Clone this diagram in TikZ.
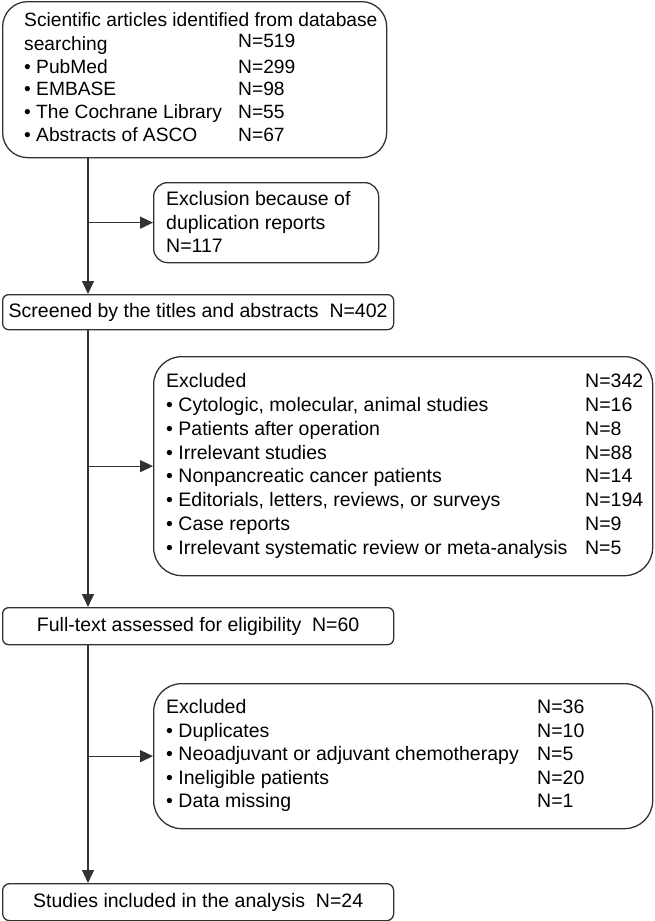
\documentclass[tikz,border=0pt]{standalone}
\usepackage{fontspec}
\setmainfont{Liberation Sans}
\usetikzlibrary{arrows.meta}
\definecolor{linegray}{RGB}{50,50,50}
\newcommand\fsz{\fontsize{19.5}{23}\selectfont}
\begin{document}
\begin{tikzpicture}[x=1pt,y=1pt,
  box/.style={draw=linegray, line width=1.3pt, inner sep=0pt, anchor=north west},
  txt/.style={inner sep=0pt, font=\fsz, text=black},
  conn/.style={draw=linegray, line width=1.3pt},
  arr/.style={conn, -{Triangle[length=13pt,width=12pt]}}]
\useasboundingbox (0,0) rectangle (654,-921);
\coordinate (trunk) at (88,0);

% top box
\node[box, rounded corners=25pt, minimum width=384pt, minimum height=156pt] (src) at (2,-1) {};
\node[txt, anchor=west, font=\fontsize{19.2}{22.8}\selectfont] (srct) at ([xshift=22pt]src.west) {\begin{tabular}{@{}p{214pt}@{}l@{}}
\multicolumn{2}{@{}l@{}}{Scientific articles identified from database}\\
searching & \raisebox{3pt}{N=519}\\
• PubMed & N=299\\
• EMBASE & N=98\\
• The Cochrane Library & N=55\\
• Abstracts of ASCO & N=67
\end{tabular}};

% duplication box
\node[box, rounded corners=14pt, minimum width=225pt, minimum height=80pt] (dup) at (153,-182) {};
\node[txt, anchor=west, font=\fontsize{19.5}{23.5}\selectfont] (dupt) at ([xshift=13pt,yshift=-2pt]dup.west) {\begin{tabular}{@{}l@{}}
Exclusion because of\\
duplication reports\\
N=117
\end{tabular}};

% screened
\node[box, rounded corners=6pt, minimum width=391pt, minimum height=35pt] (scr) at (2,-294) {};
\node[txt] (scrt) at (scr.center) {Screened by the titles and abstracts\ \ N=402};

% excluded 1
\node[box, rounded corners=28pt, minimum width=499pt, minimum height=219pt] (ex1) at (153,-356) {};
\node[txt, anchor=west, font=\fontsize{19.5}{23.8}\selectfont] (ex1t) at ([xshift=13pt]ex1.west) {\begin{tabular}{@{}p{419pt}@{}l@{}}
Excluded & N=342\\
• Cytologic, molecular, animal studies & N=16\\
• Patients after operation & N=8\\
• Irrelevant studies & N=88\\
• Nonpancreatic cancer patients & N=14\\
• Editorials, letters, reviews, or surveys & N=194\\
• Case reports & N=9\\
• Irrelevant systematic review or meta-analysis & N=5
\end{tabular}};

% full text
\node[box, rounded corners=6pt, minimum width=391pt, minimum height=37pt] (ft) at (2,-607) {};
\node[txt] (ftt) at (ft.center) {Full-text assessed for eligibility\ \ N=60};

% excluded 2
\node[box, rounded corners=28pt, minimum width=499pt, minimum height=145pt] (ex2) at (153,-683) {};
\node[txt, anchor=west, font=\fontsize{19.5}{23.5}\selectfont] (ex2t) at ([xshift=13pt]ex2.west) {\begin{tabular}{@{}p{371pt}@{}l@{}}
Excluded & N=36\\
• Duplicates & N=10\\
• Neoadjuvant or adjuvant chemotherapy & N=5\\
• Ineligible patients & N=20\\
• Data missing & N=1
\end{tabular}};

% studies included
\node[box, rounded corners=7pt, minimum width=391pt, minimum height=37pt] (inc) at (2,-883) {};
\node[txt] (inct) at (inc.center) {Studies included in the analysis\ \ N=24};

% connectors
\draw[arr] (src.south -| trunk) -- (scr.north -| trunk);
\draw[arr] (dup.west -| trunk) -- (dup.west);
\draw[arr] (scr.south -| trunk) -- (ft.north -| trunk);
\draw[arr] (ex1.west -| trunk) -- (ex1.west);
\draw[arr] (ft.south -| trunk) -- (inc.north -| trunk);
\draw[arr] (ex2.west -| trunk) -- (ex2.west);
\end{tikzpicture}
\end{document}
